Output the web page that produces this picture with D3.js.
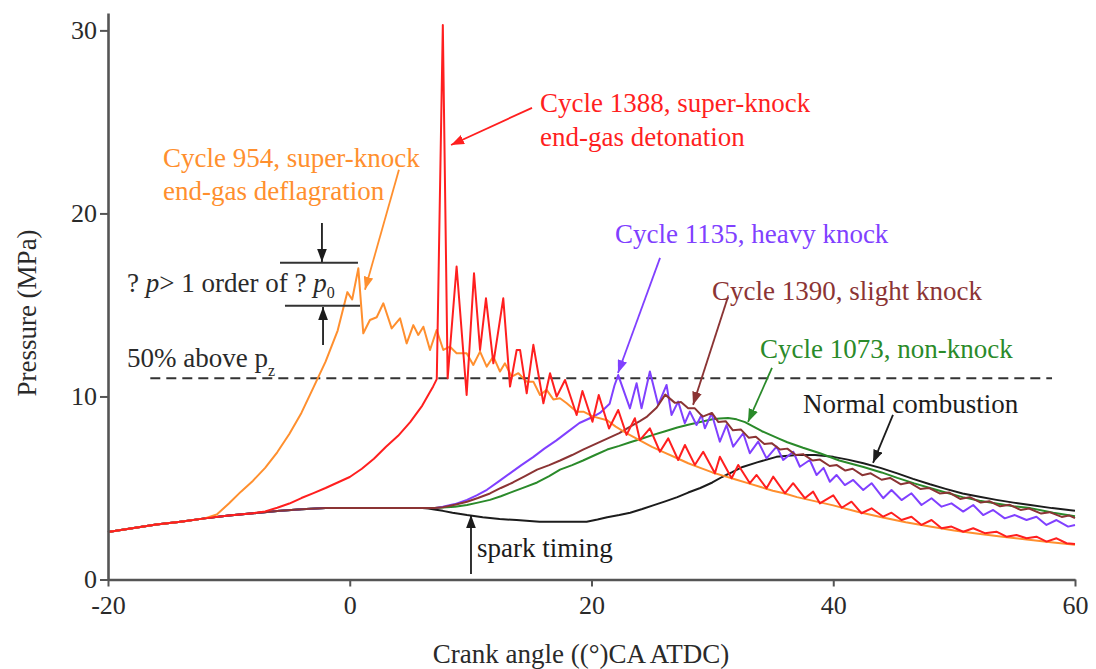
<!DOCTYPE html>
<html>
<head>
<meta charset="utf-8">
<title>Cylinder pressure traces</title>
<script src="https://d3js.org/d3.v7.min.js" charset="utf-8"></script>
<style>
  html, body { margin: 0; padding: 0; background: #fff; }
  svg { display: block; }
  text { font-family: "Liberation Serif", "Times New Roman", serif; }
</style>
</head>
<body>
<svg id="chart"></svg>
<script>
// ---- data (crank angle in deg CA ATDC, pressure in MPa) ----
var angleTicks = [-20, 0, 20, 40, 60];
var angleMinor = [-10, 10, 30, 50];
var pressureTicks = [0, 10, 20, 30];
var pressureMinor = [5, 15, 25];
var knockLimit = 11; // 50% above p_z

// shared compression stroke, every cycle follows it until it leaves
var compression = [[-20, 2.6], [-18, 2.8], [-16, 3.0], [-14, 3.16], [-12, 3.34], [-10, 3.5],
  [-8, 3.62], [-6, 3.74], [-4, 3.84], [-2, 3.9], [0, 3.9], [2, 3.9], [4, 3.9], [6, 3.9], [7, 3.9]];

var cycle954 = [[-11, 3.55], [-10, 4.15], [-9, 4.8], [-8, 5.4], [-7, 6.1], [-6, 6.95], [-5, 7.95],
  [-4, 9.1], [-3, 10.5], [-2, 11.9], [-1, 13.6], [-0.2, 15.7], [0.2, 15.3], [0.71, 17.0], [1.12, 13.45],
  [1.67, 14.18], [2.23, 14.33], [2.78, 15.09], [3.47, 13.72], [4.16, 14.27], [4.71, 12.9], [5.26, 13.9],
  [5.67, 13.36], [6.09, 13.81], [6.64, 12.54], [7.19, 13.63], [7.74, 12.54], [8.29, 12.72], [8.84, 12.36],
  [9.67, 12.36], [10.22, 11.72], [10.78, 12.45], [11.33, 11.63], [11.88, 12.18], [12.43, 11.36],
  [12.84, 11.81], [13.4, 11.08], [13.95, 11.27], [14.64, 10.81], [15.19, 10.81], [15.74, 10.08],
  [16.29, 10.36], [16.84, 9.84], [17.39, 9.9], [17.95, 9.63], [18.77, 9.17], [19.33, 9.17], [20.15, 8.9],
  [21.3, 8.7], [22, 8.35], [23, 7.95], [24, 7.6], [25, 7.25], [26, 6.95], [27, 6.65], [28, 6.35],
  [29, 6.1], [30, 5.85], [31, 5.65], [32, 5.45], [33, 5.25], [34, 5.05], [35, 4.85], [36, 4.7],
  [37, 4.5], [38, 4.35], [39, 4.2], [40, 4.05], [42, 3.7], [44, 3.4], [46, 3.13], [48, 2.9],
  [50, 2.68], [52, 2.5], [54, 2.34], [56, 2.19], [58, 2.04], [60, 1.9]];

var cycle1388 = [[-7, 3.72], [-6, 3.92], [-5, 4.15], [-4, 4.45], [-3, 4.72], [-2, 5.0], [-1, 5.3],
  [0, 5.6], [1, 6.05], [2, 6.6], [3, 7.25], [4, 7.85], [5, 8.6], [6, 9.5], [6.6, 10.2], [6.9, 10.55],
  [7.2, 10.95], [7.7, 30.3], [8.1, 11.0], [8.84, 17.1], [9.67, 10.08], [10.28, 16.73], [10.78, 12.54],
  [11.27, 15.36], [11.88, 11.81], [12.7, 15.36], [13.26, 10.54], [13.81, 12.54], [14.09, 12.54],
  [14.64, 10.17], [15.19, 12.82], [16.02, 9.63], [16.57, 11.27], [17.12, 9.99], [17.81, 10.9],
  [18.77, 8.99], [19.25, 10.3], [20.08, 8.62], [20.6, 10.08], [21.45, 8.25], [22.21, 9.26], [22.9, 7.9],
  [23.59, 8.81], [24.0, 7.62], [24.83, 8.26], [25.66, 6.98], [26.35, 7.71], [27.17, 6.53], [27.73, 7.35],
  [28.55, 6.26], [29.24, 6.98], [30.21, 5.8], [30.62, 6.71], [31.59, 5.53], [32.14, 6.26], [33.1, 5.26],
  [33.66, 5.71], [34.48, 4.98], [35.03, 5.62], [36.0, 4.71], [36.68, 5.26], [37.65, 4.44], [38.34, 4.8],
  [38.89, 4.16], [40.0, 4.6], [40.7, 3.92], [41.51, 4.25], [42.34, 3.62], [43.17, 3.89], [44.13, 3.43],
  [44.82, 3.65], [45.65, 3.25], [46.47, 3.43], [47.3, 2.98], [48.13, 3.25], [48.96, 2.8], [49.78, 2.89],
  [50.75, 2.61], [51.58, 2.8], [52.54, 2.53], [53.5, 2.61], [54.33, 2.34], [55.16, 2.43], [55.99, 2.25],
  [56.81, 2.34], [57.64, 2.07], [58.47, 2.25], [59.3, 1.98], [60, 1.94]];

var cycle1135 = [[7.7, 3.97], [8.7, 4.12], [9.7, 4.35], [10.5, 4.6], [11.35, 4.9], [12.3, 5.35],
  [13.25, 5.8], [14.2, 6.25], [15.2, 6.7], [16.1, 7.15], [17.1, 7.6], [18.0, 8.05], [19.0, 8.55],
  [20.0, 8.85], [20.7, 9.1], [21.5, 9.6], [21.9, 10.6], [22.21, 11.17], [23.18, 9.35], [23.73, 10.72],
  [24.14, 9.35], [24.83, 11.36], [25.52, 9.54], [26.21, 10.63], [26.62, 8.99], [27.17, 9.72],
  [27.72, 8.54], [28.14, 9.17], [28.69, 8.44], [29.1, 8.99], [29.38, 8.26], [29.93, 9.08], [30.62, 7.53],
  [31.17, 8.44], [31.72, 7.26], [32.55, 7.99], [33.1, 6.9], [33.79, 7.53], [34.48, 6.62], [35.31, 7.26],
  [35.86, 6.53], [36.69, 6.98], [37.24, 6.16], [38.06, 6.53], [38.62, 5.71], [39.2, 6.1], [39.72, 5.34],
  [40.27, 5.71], [40.96, 5.16], [41.65, 5.44], [42.48, 4.89], [43.17, 5.26], [44.13, 4.44], [44.82, 4.89],
  [45.65, 4.34], [46.47, 4.71], [47.3, 4.07], [48.13, 4.44], [48.96, 3.98], [49.78, 4.16], [50.75, 3.71],
  [51.58, 4.07], [52.4, 3.52], [53.23, 3.8], [54.19, 3.34], [55.02, 3.52], [55.99, 3.25], [56.81, 3.43],
  [57.64, 2.98], [58.47, 3.25], [59.43, 2.89], [60, 2.98]];

var cycle1390 = [[7.7, 3.95], [8.7, 4.08], [9.7, 4.25], [10.6, 4.45], [11.6, 4.7], [12.5, 5.0],
  [13.5, 5.3], [14.5, 5.65], [15.5, 6.0], [16.5, 6.25], [17.4, 6.5], [18.4, 6.8], [19.3, 7.1],
  [20.3, 7.4], [21.3, 7.7], [22.3, 8.0], [23.2, 8.35], [24.0, 8.65], [24.6, 8.9], [25.4, 9.4],
  [26.1, 10.1], [26.9, 9.65], [27.4, 9.7], [28.0, 9.35], [28.55, 9.35], [29.2, 8.9], [29.96, 9.1],
  [30.5, 8.6], [31.1, 8.65], [31.7, 8.15], [32.35, 8.2], [33.0, 7.75], [33.6, 7.8], [34.3, 7.4],
  [34.9, 7.45], [35.6, 7.1], [36.2, 7.15], [36.9, 6.8], [37.5, 6.85], [38.3, 6.5], [38.9, 6.55],
  [39.7, 6.2], [40.3, 6.25], [41.0, 5.95], [41.6, 6.05], [42.4, 5.7], [43.1, 5.8], [44.0, 5.45],
  [44.7, 5.55], [45.6, 5.2], [46.3, 5.3], [47.2, 4.95], [47.9, 5.0], [48.8, 4.7], [49.6, 4.75],
  [50.5, 4.4], [51.3, 4.5], [52.2, 4.2], [52.9, 4.28], [53.8, 4.0], [54.6, 4.08], [55.5, 3.8],
  [56.2, 3.88], [57.2, 3.6], [57.9, 3.68], [58.9, 3.42], [59.5, 3.5], [60, 3.35]];

var cycle1073 = [[7.7, 3.93], [8.7, 3.98], [9.7, 4.07], [10.6, 4.2], [11.6, 4.35], [12.5, 4.55],
  [13.5, 4.8], [14.5, 5.05], [15.5, 5.3], [16.5, 5.65], [17.4, 6.0], [18.4, 6.25], [19.3, 6.5],
  [20.3, 6.8], [21.3, 7.1], [22.3, 7.3], [23.2, 7.5], [24.2, 7.7], [25.1, 7.9], [26.1, 8.1], [27.1, 8.3],
  [28.0, 8.45], [29.0, 8.6], [30.0, 8.75], [30.6, 8.8], [31.3, 8.82], [32.0, 8.75], [32.7, 8.6],
  [33.4, 8.35], [34.1, 8.1], [34.8, 7.9], [35.5, 7.7], [36.2, 7.5], [37.5, 7.2], [38.9, 6.9], [40.5, 6.5],
  [42.5, 6.15], [44.0, 5.85], [45.3, 5.55], [46.7, 5.25], [48.0, 5.0], [49.3, 4.75], [50.7, 4.5],
  [52.1, 4.3], [53.5, 4.15], [54.9, 4.0], [56.3, 3.9], [58.2, 3.65], [60, 3.45]];

var normalCycle = [[6.5, 3.88], [7.0, 3.82], [7.7, 3.75], [8.5, 3.65], [9.7, 3.52], [11.0, 3.4],
  [12.4, 3.3], [13.8, 3.25], [15.7, 3.15], [17.6, 3.15], [19.6, 3.16], [20.5, 3.28], [21.3, 3.4],
  [22.3, 3.52], [23.2, 3.65], [24.2, 3.85], [25.1, 4.05], [26.1, 4.27], [27.1, 4.5], [28.0, 4.75],
  [29.0, 5.0], [30.0, 5.3], [30.8, 5.6], [31.6, 5.85], [32.5, 6.15], [33.7, 6.4], [35.3, 6.7],
  [37.0, 6.8], [38.5, 6.8], [40.0, 6.7], [41.2, 6.55], [42.5, 6.35], [43.9, 6.1], [45.3, 5.8],
  [46.6, 5.5], [48.0, 5.2], [49.3, 4.95], [50.7, 4.7], [52.1, 4.52], [53.5, 4.35], [54.9, 4.2],
  [56.3, 4.07], [58.1, 3.9], [60, 3.75]];

// ---- layout ----
var width = 1096, height = 669;
var plotLeft = 108, plotRight = 1075, plotBottom = 579.5, plotTop = 13;

var orange = "#ff8f2e", red = "#ff1f1f", purple = "#8040ff",
    brown = "#8b3434", green = "#2a8a2a", black = "#1c1c1c";
var palette = [orange, red, purple, brown, green, black];

var x = d3.scaleLinear().domain([-20, 60]).range([plotLeft, plotRight]);
var y = d3.scaleLinear().domain([0, 30.95]).range([plotBottom, plotTop]);

var svg = d3.select("#chart").attr("width", width).attr("height", height);

// series, drawn bottom to top
var series = [
  {pts: normalCycle, leave: 6, color: black},
  {pts: cycle1073, leave: 7, color: green},
  {pts: cycle1135, leave: 7, color: purple},
  {pts: cycle1390, leave: 7, color: brown},
  {pts: cycle954, leave: -12, color: orange},
  {pts: cycle1388, leave: -8, color: red}
];

var line = d3.line().x(function(d) { return x(d[0]); }).y(function(d) { return y(d[1]); });

// arrow heads
var defs = svg.append("defs");
palette.forEach(function(c, i) {
  defs.append("marker")
    .attr("id", "head" + i)
    .attr("viewBox", "0 0 12 9")
    .attr("refX", 12).attr("refY", 4.5)
    .attr("markerWidth", 13).attr("markerHeight", 10)
    .attr("markerUnits", "userSpaceOnUse")
    .attr("orient", "auto")
    .append("path").attr("d", "M0,0L12,4.5L0,9Z").attr("fill", c);
});
function headFor(c) {
  return "url(#head" + palette.indexOf(c) + ")";
}

// dashed knock limit line
svg.append("line")
  .attr("x1", x(-16.5)).attr("x2", x(58.1))
  .attr("y1", y(knockLimit)).attr("y2", y(knockLimit))
  .attr("stroke", "#333").attr("stroke-width", 2)
  .attr("stroke-dasharray", "10,6");

series.forEach(function(s) {
  var pts = compression.filter(function(d) { return d[0] <= s.leave; }).concat(s.pts);
  svg.append("path")
    .datum(pts)
    .attr("d", line)
    .attr("fill", "none")
    .attr("stroke", s.color)
    .attr("stroke-width", 2)
    .attr("stroke-linejoin", "round");
});

// axes
var gx = svg.append("g").attr("transform", "translate(0," + plotBottom + ")");
gx.call(d3.axisBottom(x).tickValues(angleMinor).tickSize(3).tickSizeOuter(0).tickFormat(""));
gx.call(d3.axisBottom(x).tickValues(angleTicks).tickSize(7).tickSizeOuter(0).tickPadding(9)
  .tickFormat(function(d) { return String(d); }));

var gy = svg.append("g").attr("transform", "translate(" + plotLeft + ",0)");
gy.call(d3.axisLeft(y).tickValues(pressureMinor).tickSize(3).tickSizeOuter(0).tickFormat(""));
gy.call(d3.axisLeft(y).tickValues(pressureTicks).tickSize(8).tickSizeOuter(0).tickPadding(3)
  .tickFormat(function(d) { return String(d); }));

svg.selectAll(".domain").attr("stroke", "#555").attr("stroke-width", 2.6);
svg.selectAll(".tick line").attr("stroke", "#555").attr("stroke-width", 2);
svg.selectAll(".tick text").attr("font-size", 26).attr("fill", "#2a2a2a")
  .style("font-family", "'Liberation Serif', 'Times New Roman', serif");

// axis titles
svg.append("text")
  .attr("x", 581).attr("y", 663)
  .attr("text-anchor", "middle").attr("font-size", 27).attr("fill", "#2a2a2a")
  .text("Crank angle ((°)CA ATDC)");
svg.append("text")
  .attr("transform", "translate(36,313) rotate(-90)")
  .attr("text-anchor", "middle").attr("font-size", 27).attr("fill", "#2a2a2a")
  .text("Pressure (MPa)");

// annotations (in data units)
var notes = [
  {t: "Cycle 954, super-knock", a: -15.45, p: 22.54, c: orange},
  {t: "end-gas deflagration", a: -15.45, p: 20.74, c: orange},
  {t: "Cycle 1388, super-knock", a: 15.74, p: 25.55, c: red},
  {t: "end-gas detonation", a: 15.74, p: 23.66, c: red},
  {t: "Cycle 1135, heavy knock", a: 21.94, p: 18.39, c: purple},
  {t: "Cycle 1390, slight knock", a: 29.97, p: 15.27, c: brown},
  {t: "Cycle 1073, non-knock", a: 33.94, p: 12.1, c: green},
  {t: "Normal combustion", a: 37.5, p: 9.1, c: black},
  {t: "spark timing", a: 10.53, p: 1.23, c: black}
];
svg.selectAll("text.note").data(notes).enter().append("text")
  .attr("class", "note")
  .attr("x", function(d) { return x(d.a); })
  .attr("y", function(d) { return y(d.p); })
  .attr("font-size", 27)
  .attr("fill", function(d) { return d.c; })
  .text(function(d) { return d.t; });

var arrows = [
  {a1: 4.07, p1: 22.38, a2: 1.26, p2: 15.83, c: orange},
  {a1: 15.08, p1: 25.77, a2: 8.38, p2: 23.74, c: red},
  {a1: 25.67, p1: 17.57, a2: 22.19, p2: 11.28, c: purple},
  {a1: 31.29, p1: 15.44, a2: 28.4, p2: 9.54, c: brown},
  {a1: 34.93, p1: 11.56, a2: 32.95, p2: 8.61, c: green},
  {a1: 44.94, p1: 8.99, a2: 43.29, p2: 6.37, c: black},
  {a1: 10.03, p1: 0.3, a2: 10.03, p2: 3.52, c: black},
  {a1: -2.3, p1: 19.48, a2: -2.3, p2: 17.35, c: black},
  {a1: -2.21, p1: 12.81, a2: -2.21, p2: 14.89, c: black}
];
svg.selectAll("line.arrow").data(arrows).enter().append("line")
  .attr("class", "arrow")
  .attr("x1", function(d) { return x(d.a1); }).attr("y1", function(d) { return y(d.p1); })
  .attr("x2", function(d) { return x(d.a2); }).attr("y2", function(d) { return y(d.p2); })
  .attr("stroke", function(d) { return d.c; })
  .attr("stroke-width", 1.8)
  .attr("marker-end", function(d) { return headFor(d.c); });

// pressure-rise brackets
var bars = [{a1: -5.77, a2: 0.68, p: 17.3}, {a1: -5.36, a2: 0.85, p: 14.95}];
svg.selectAll("line.bar").data(bars).enter().append("line")
  .attr("class", "bar")
  .attr("x1", function(d) { return x(d.a1); }).attr("x2", function(d) { return x(d.a2); })
  .attr("y1", function(d) { return y(d.p); }).attr("y2", function(d) { return y(d.p); })
  .attr("stroke", "#333").attr("stroke-width", 2);

var dp = svg.append("text")
  .attr("x", x(-18.43)).attr("y", y(15.71))
  .attr("font-size", 27).attr("fill", "#2a2a2a");
dp.append("tspan").text("? ");
dp.append("tspan").attr("font-style", "italic").text("p");
dp.append("tspan").text("> 1 order of ? ");
dp.append("tspan").attr("font-style", "italic").text("p");
dp.append("tspan").attr("font-size", 16).attr("dy", 6).text("0");

var lim = svg.append("text")
  .attr("x", x(-18.43)).attr("y", y(11.61))
  .attr("font-size", 27).attr("fill", "#2a2a2a");
lim.append("tspan").text("50% above p");
lim.append("tspan").attr("font-size", 16).attr("dy", 9).text("z");
</script>
</body>
</html>
